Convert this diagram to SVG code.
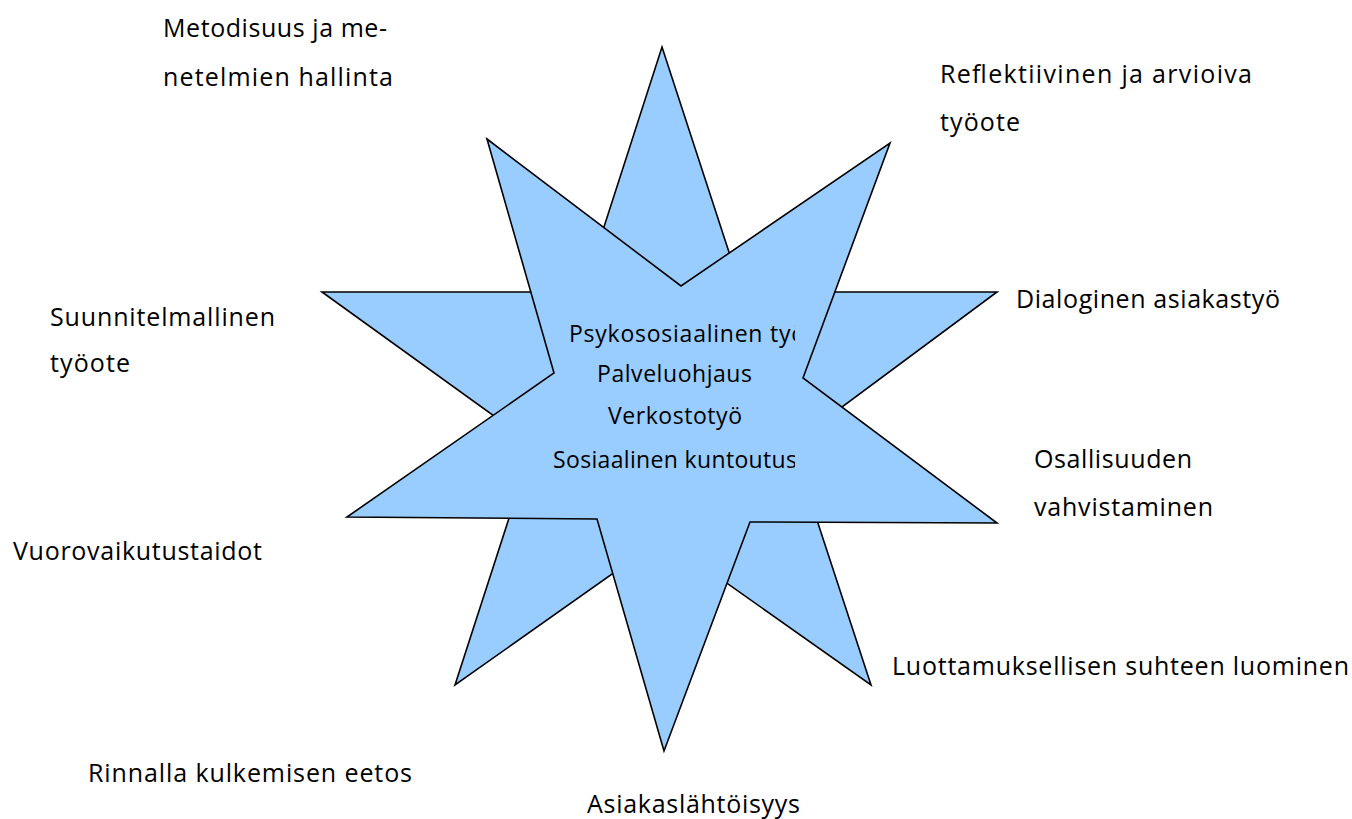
<svg xmlns="http://www.w3.org/2000/svg" width="1352" height="819" viewBox="0 0 1352 819">
<style>
.star{fill:#99CCFF;stroke:#000;stroke-width:1.6;stroke-linejoin:miter}
.lbl{font-family:"Open Sans","DejaVu Sans",sans-serif;font-size:25px;fill:#000}
.ctr{font-family:"Open Sans","DejaVu Sans",sans-serif;font-size:23px;fill:#000}
</style>
<defs>
<clipPath id="cclip"><rect x="550" y="305" width="245" height="185"/></clipPath>
</defs>
<rect width="1352" height="819" fill="#fff"/>
<g id="star-back">
<path class="star" d="M662,47 L742,292 L997,292 L792,444 L871,685 L663,538 L455,685 L533,444 L322,292 L583,292 Z"/>
</g>
<g id="star-front">
<path class="star" d="M487,139 L681,286 L890,143 L803,378 L997,523 L750,522 L664,751 L597,519 L347,517 L554,373 Z"/>
</g>
<g id="center-text" clip-path="url(#cclip)">
<text class="ctr" x="569" y="342" textLength="236" lengthAdjust="spacing">Psykososiaalinen työ</text>
<text class="ctr" x="597" y="382" textLength="155" lengthAdjust="spacing">Palveluohjaus</text>
<text class="ctr" x="608" y="424" textLength="134" lengthAdjust="spacing">Verkostotyö</text>
<text class="ctr" x="553" y="468" textLength="244" lengthAdjust="spacing">Sosiaalinen kuntoutus</text>
</g>
<g id="label-metodisuus">
<text class="lbl" x="163" y="37" textLength="224" lengthAdjust="spacing">Metodisuus ja me-</text>
<text class="lbl" x="163" y="86" textLength="230" lengthAdjust="spacing">netelmien hallinta</text>
</g>
<g id="label-reflektiivinen">
<text class="lbl" x="940" y="83" textLength="312" lengthAdjust="spacing">Reflektiivinen ja arvioiva</text>
<text class="lbl" x="940" y="131" textLength="80" lengthAdjust="spacing">työote</text>
</g>
<g id="label-dialoginen">
<text class="lbl" x="1016" y="308" textLength="264" lengthAdjust="spacing">Dialoginen asiakastyö</text>
</g>
<g id="label-suunnitelmallinen">
<text class="lbl" x="50" y="326" textLength="225" lengthAdjust="spacing">Suunnitelmallinen</text>
<text class="lbl" x="50" y="372" textLength="80" lengthAdjust="spacing">työote</text>
</g>
<g id="label-osallisuus">
<text class="lbl" x="1034" y="468" textLength="158" lengthAdjust="spacing">Osallisuuden</text>
<text class="lbl" x="1034" y="516" textLength="179" lengthAdjust="spacing">vahvistaminen</text>
</g>
<g id="label-vuorovaikutus">
<text class="lbl" x="13" y="560" textLength="249" lengthAdjust="spacing">Vuorovaikutustaidot</text>
</g>
<g id="label-luottamus">
<text class="lbl" x="892" y="675" textLength="457" lengthAdjust="spacing">Luottamuksellisen suhteen luominen</text>
</g>
<g id="label-rinnalla">
<text class="lbl" x="88" y="782" textLength="324" lengthAdjust="spacing">Rinnalla kulkemisen eetos</text>
</g>
<g id="label-asiakaslahtoisyys">
<text class="lbl" x="587" y="813" textLength="213" lengthAdjust="spacing">Asiakaslähtöisyys</text>
</g>
<g id="connectors"/>
</svg>
